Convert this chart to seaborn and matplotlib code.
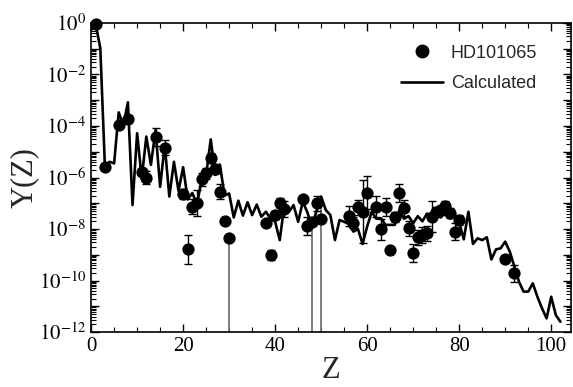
import numpy as np
import pandas as pd
import matplotlib
matplotlib.use("Agg")
import matplotlib.pyplot as plt
import seaborn as sns
from matplotlib.ticker import LogLocator, MultipleLocator, FuncFormatter, NullFormatter

# ---- data (log10 of abundance) ----
obs_z = [1, 3, 6, 8, 11, 12, 14, 16, 20, 21, 22, 23, 24, 25, 26, 27, 28, 29, 30,
         38, 39, 40, 41, 42, 46, 47, 48, 49, 50, 56, 57, 58, 59, 60, 62, 63, 64,
         65, 66, 67, 68, 69, 70, 71, 72, 73, 74, 75, 76, 77, 78, 79, 80, 90, 92]
obs_logy = [-0.04, -5.6, -3.96, -3.73, -5.80, -6.0, -4.41, -4.84, -6.63, -8.79,
            -7.13, -7.0, -6.06, -5.84, -5.25, -5.67, -6.55, -7.69, -8.36,
            -7.75, -9.01, -7.46, -7.0, -7.23, -6.85, -7.88, -7.72, -7.0, -7.62,
            -7.50, -7.75, -7.16, -7.33, -6.59, -7.13, -8.01, -7.13, -8.82, -7.52,
            -6.59, -7.18, -7.97, -8.92, -8.32, -8.23, -8.17, -7.52, -7.33, -7.25,
            -7.11, -7.37, -8.1, -7.65, -9.17, -9.72]
obs_err = [0, 0, 0, 0, 0.15, 0.25, 0.35, 0.3, 0.2, 0.55,
           0.3, 0.5, 0.25, 0.2, 0.2, 0.2, 0.3, 0, 0,
           0, 0.2, 0.15, 0.2, 0.3, 0, 0.35, 0, 0.3, 0,
           0.4, 0.2, 0.3, 1.23, 0.65, 0.4, 0.4, 0.35, 0, 0.2,
           0.35, 0.3, 0.3, 0.35, 0.3, 0.3, 0.3, 0.6, 0.2, 0.2,
           0.2, 0.2, 0.33, 0.2, 0, 0.33]

# upper limits drawn as lines down to the axis
limit_z = [30, 48, 50]
limit_top = [-8.36, -7.72, -6.74]

calc_z = list(range(1, 103))
calc_logy = [-0.05, -0.98, -5.58, -5.39, -5.45, -3.47, -3.96, -3.08, -7.07, -4.28,
             -6.03, -4.41, -5.51, -4.16, -6.36, -4.74, -6.74, -5.39, -6.52, -5.6,
             -6.85, -6.6, -7.03, -6.13, -5.9, -4.52, -5.9, -5.5, -6.7, -6.62,
             -7.55, -6.9, -7.48, -6.96, -7.46, -7.05, -7.52, -7.33, -7.6, -7.72,
             -8.43, -7.07, -7.33, -7.07, -7.72, -6.94, -7.35, -7.9, -7.3, -6.74,
             -7.26, -7.46, -8.43, -7.65, -7.72, -7.8, -8.1, -8.0, -8.58, -7.9,
             -7.33, -7.6, -7.58, -7.84, -7.84, -7.84, -7.26, -7.6, -7.5, -7.78,
             -7.5, -7.7, -7.4, -7.5, -7.3, -7.55, -7.35, -7.6, -7.45, -7.75,
             -8.4, -7.33, -8.58, -8.36, -8.43, -8.32, -9.18, -8.79, -8.75, -8.49,
             -8.88, -9.46, -10.05, -10.43, -10.43, -10.11, -10.63, -11.08, -11.47, -10.63,
             -11.34, -11.6]

xticks = [0, 20, 40, 60, 80, 100]

# ---- style ----
sns.set_style("ticks")
plt.rcParams["font.family"] = ["Liberation Serif", "DejaVu Serif"]
plt.rcParams["mathtext.fontset"] = "stix"

fig = plt.figure(figsize=(5.73, 3.87), dpi=100)
ax = fig.add_axes([0.159, 0.142, 0.8375, 0.7986])
ax.set_yscale("log")

obs_y = 10 ** np.array(obs_logy)
err = np.array(obs_err)
lo = obs_y - obs_y * 10 ** (-err)
hi = obs_y * 10 ** err - obs_y

calc_df = pd.DataFrame({"Z": calc_z, "Y": 10 ** np.array(calc_logy)})
obs_df = pd.DataFrame({"Z": obs_z, "Y": obs_y})

ax.vlines(limit_z, 1e-13, 10 ** np.array(limit_top), color="0.45", lw=1.3, zorder=1)
sns.lineplot(data=calc_df, x="Z", y="Y", ax=ax, color="black", lw=1.9,
             zorder=2, legend=False)
ax.errorbar(obs_z, obs_y, yerr=[lo, hi], fmt="none", ecolor="black",
            elinewidth=1.0, capsize=3, capthick=1.0, zorder=3)
sns.scatterplot(data=obs_df, x="Z", y="Y", ax=ax, color="black", s=78,
                linewidth=0, zorder=4, legend=False, clip_on=False)

ax.set_xlim(0, 104.3)
ax.set_ylim(1e-12, 1)

ax.xaxis.set_major_locator(plt.FixedLocator(xticks))
ax.xaxis.set_minor_locator(MultipleLocator(5))
ax.yaxis.set_major_locator(LogLocator(base=10, numticks=30))
ax.yaxis.set_minor_locator(LogLocator(base=10, subs=np.arange(2, 10), numticks=30))
ax.yaxis.set_minor_formatter(NullFormatter())


def yfmt(v, pos):
    e = int(round(np.log10(v)))
    if e % 2 != 0:
        return ""
    return r"$10^{%d}$" % e


ax.yaxis.set_major_formatter(FuncFormatter(yfmt))
ax.tick_params(which="both", direction="in", top=True, right=True,
               labelsize=15, colors="black")
ax.tick_params(which="major", length=6, width=1.0)
ax.tick_params(which="minor", length=3.5, width=0.8)
for s in ax.spines.values():
    s.set_linewidth(1.2)
    s.set_color("black")

ax.set_xlabel("Z", fontsize=22, labelpad=0)
ax.set_ylabel("Y(Z)", fontsize=22, labelpad=0)

h1 = plt.Line2D([], [], marker="o", color="black", ls="none", markersize=9)
h2 = plt.Line2D([], [], color="black", lw=1.9)
ax.legend([h1, h2], ["HD101065", "Calculated"], loc="upper left",
          bbox_to_anchor=(0.646, 0.93), frameon=False, borderpad=0,
          borderaxespad=0, handlelength=2.3, handletextpad=0.45,
          labelspacing=0.75, prop={"family": "Liberation Sans", "size": 13})

fig.savefig("out.png", dpi=100)
